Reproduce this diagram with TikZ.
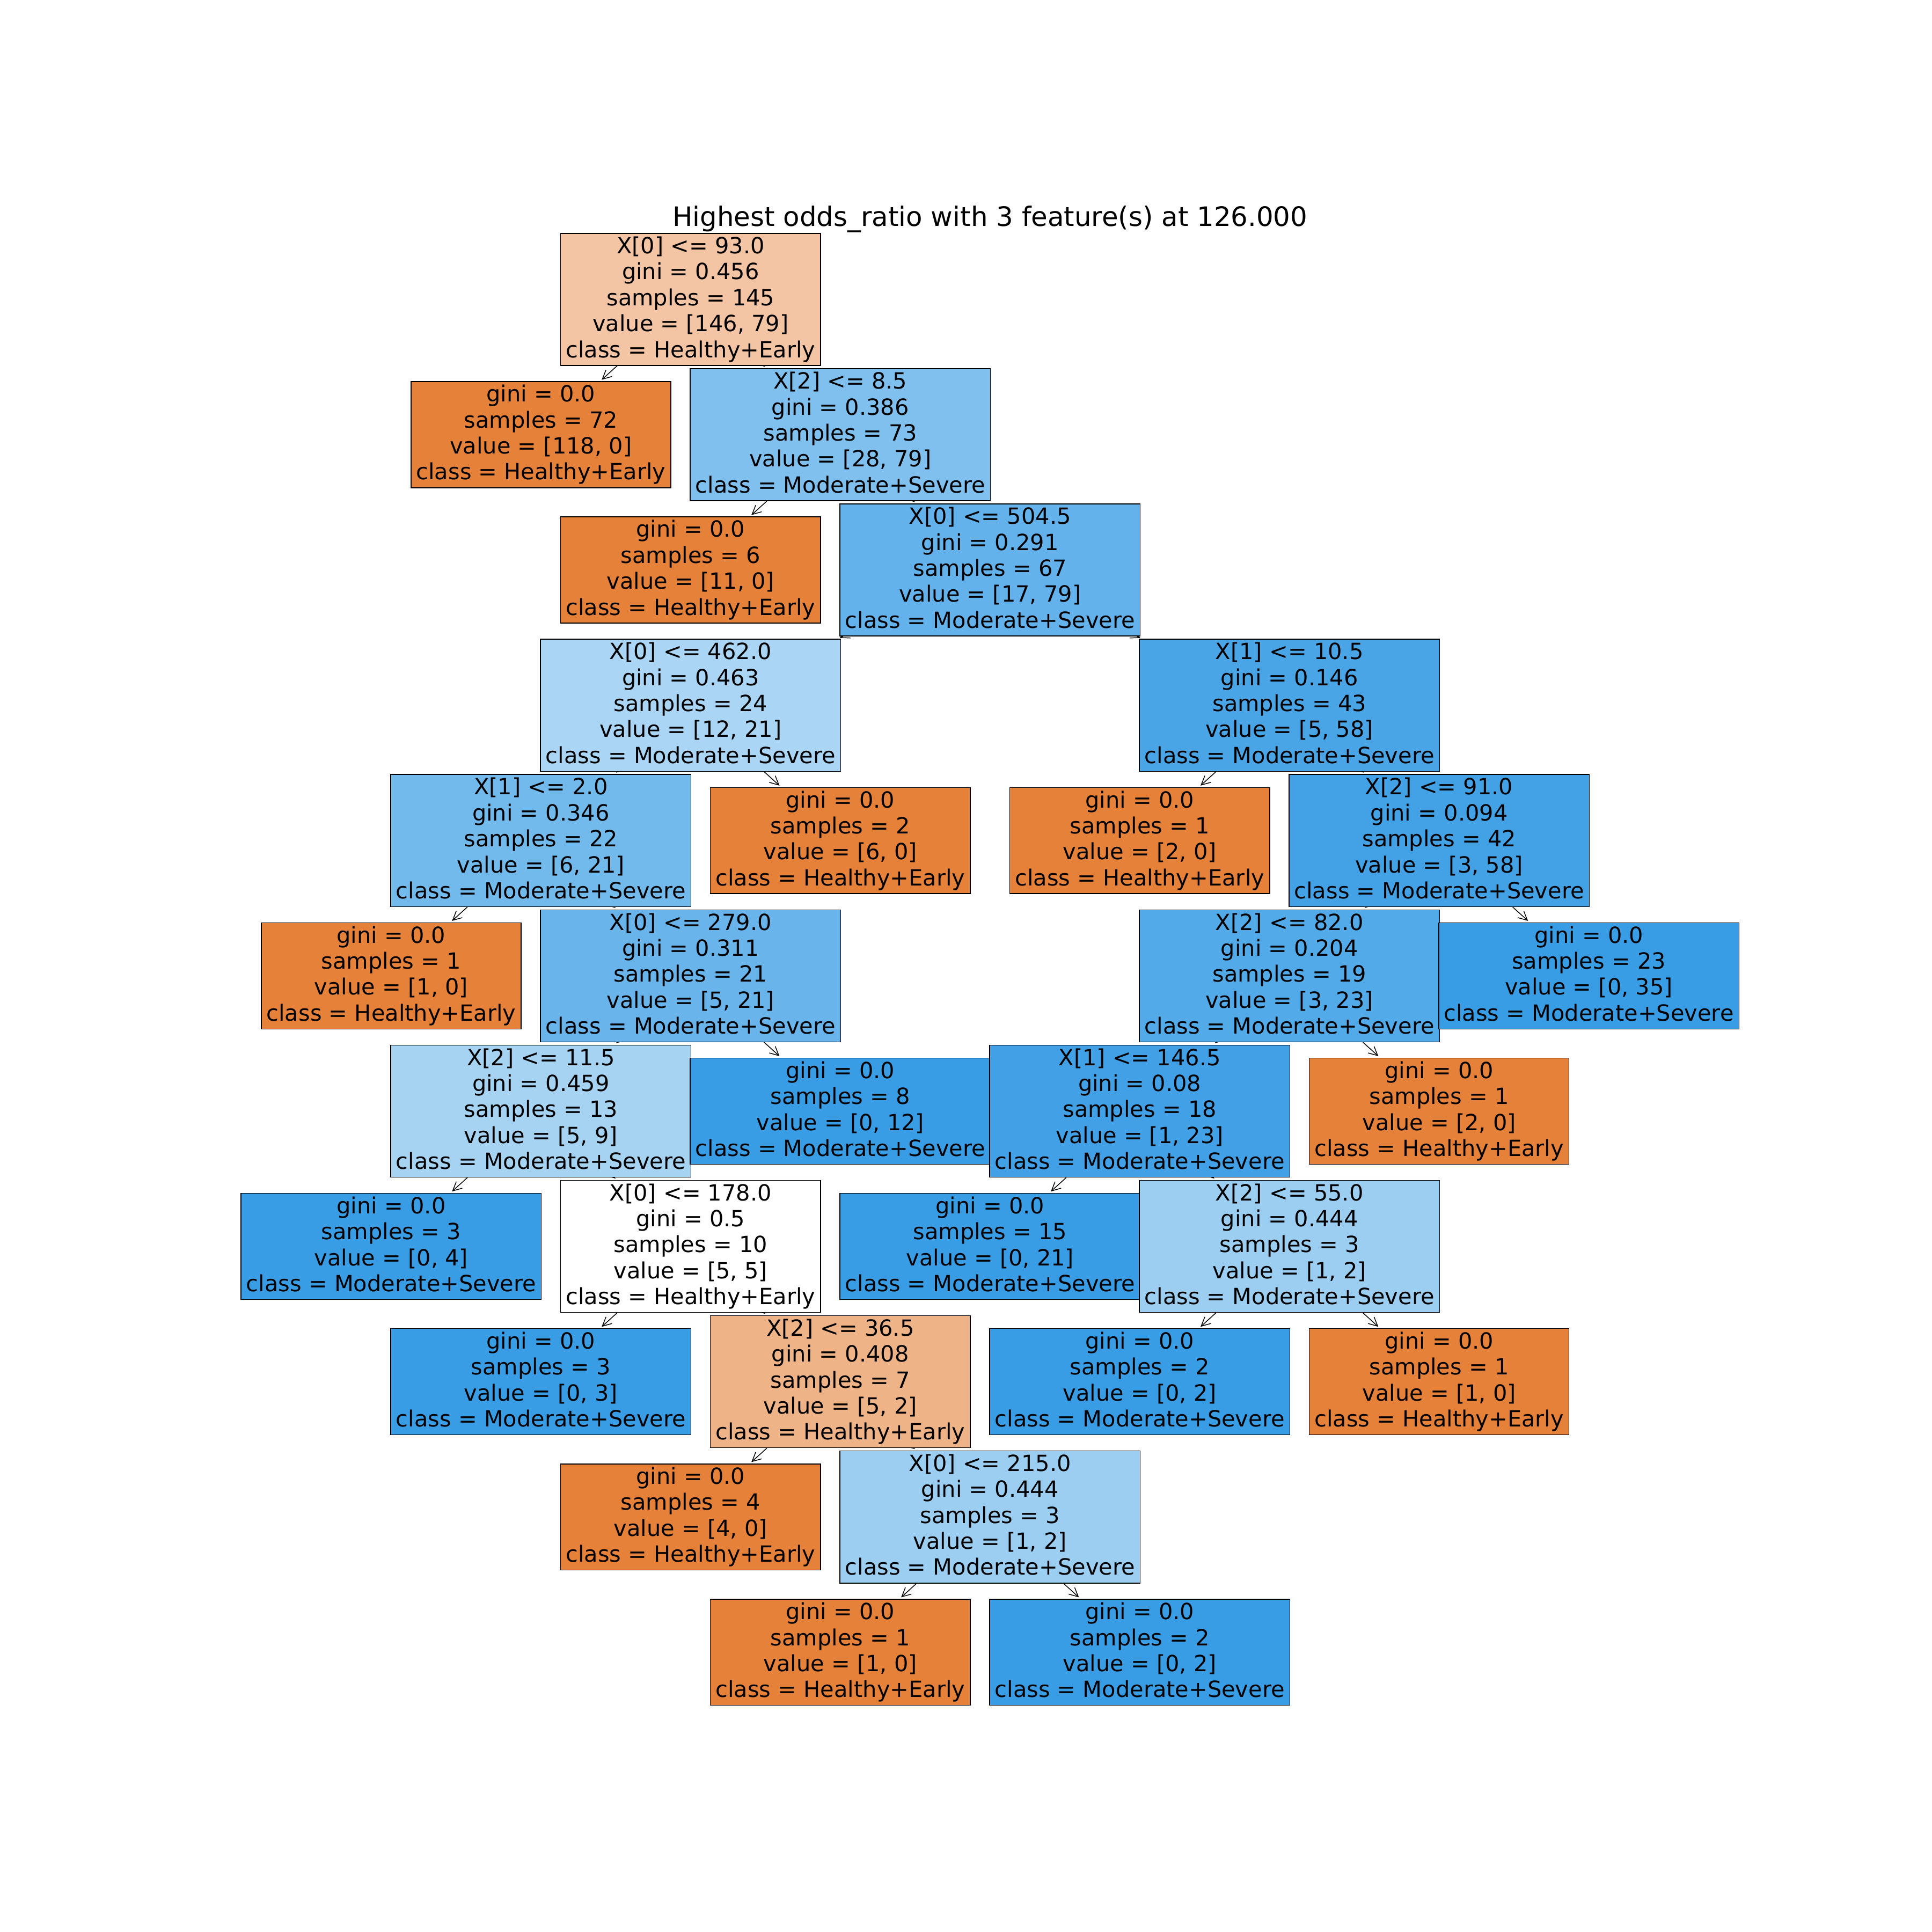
\documentclass[tikz,border=0pt]{standalone}
\usepackage{fontspec}
\setmainfont{DejaVu Sans}
\usetikzlibrary{arrows.meta,backgrounds}

\definecolor{hlth}{RGB}{229,129,57}
\definecolor{sev}{RGB}{57,157,229}
\definecolor{c_1}{RGB}{243,197,164}
\definecolor{c_3}{RGB}{127,192,238}
\definecolor{c_5}{RGB}{100,178,235}
\definecolor{c_6}{RGB}{170,213,244}
\definecolor{c_7}{RGB}{74,165,231}
\definecolor{c_8}{RGB}{114,185,236}
\definecolor{c_11}{RGB}{67,162,230}
\definecolor{c_13}{RGB}{104,180,235}
\definecolor{c_14}{RGB}{83,170,232}
\definecolor{c_16}{RGB}{167,211,243}
\definecolor{c_18}{RGB}{66,161,230}
\definecolor{c_23}{RGB}{156,206,242}
\definecolor{c_25}{RGB}{239,179,136}

% strut for first and last line of a box
\newcommand{\ls}{\rule[-3.6pt]{0pt}{12.7pt}}

\begin{document}
\begin{tikzpicture}[x=2.36184cm, y=-2.1344cm, font=\fontsize{10}{11.65}\selectfont,
  box/.style={draw, line width=0.35pt, rectangle, align=center, inner xsep=2.35pt, inner ysep=0pt},
  arr/.style={draw, line width=0.35pt, -{Straight Barb[length=4pt,width=4pt]}, shorten >=1pt}]
%\draw[help lines] (0,0) grid (8,10);
\useasboundingbox (-2.6132,-2.2131) rectangle (10.2922,12.0674);
\node (title) [font=\fontsize{12}{14.4}\selectfont, anchor=base] at (4,-0.5419) {Highest odds\_ratio with 3 feature(s) at 126.000};

\node (n_1) [box, fill=c_1] at (2,0) {\ls X[0] <= 93.0\\gini = 0.456\\samples = 145\\value = [146, 79]\\class = Healthy+Early\ls};
\node (n_2) [box, fill=hlth] at (1,1) {\ls gini = 0.0\\samples = 72\\value = [118, 0]\\class = Healthy+Early\ls};
\node (n_3) [box, fill=c_3] at (3,1) {\ls X[2] <= 8.5\\gini = 0.386\\samples = 73\\value = [28, 79]\\class = Moderate+Severe\ls};
\node (n_4) [box, fill=hlth] at (2,2) {\ls gini = 0.0\\samples = 6\\value = [11, 0]\\class = Healthy+Early\ls};
\node (n_5) [box, fill=c_5] at (4,2) {\ls X[0] <= 504.5\\gini = 0.291\\samples = 67\\value = [17, 79]\\class = Moderate+Severe\ls};
\node (n_6) [box, fill=c_6] at (2,3) {\ls X[0] <= 462.0\\gini = 0.463\\samples = 24\\value = [12, 21]\\class = Moderate+Severe\ls};
\node (n_7) [box, fill=c_7] at (6,3) {\ls X[1] <= 10.5\\gini = 0.146\\samples = 43\\value = [5, 58]\\class = Moderate+Severe\ls};
\node (n_8) [box, fill=c_8] at (1,4) {\ls X[1] <= 2.0\\gini = 0.346\\samples = 22\\value = [6, 21]\\class = Moderate+Severe\ls};
\node (n_9) [box, fill=hlth] at (3,4) {\ls gini = 0.0\\samples = 2\\value = [6, 0]\\class = Healthy+Early\ls};
\node (n_10) [box, fill=hlth] at (5,4) {\ls gini = 0.0\\samples = 1\\value = [2, 0]\\class = Healthy+Early\ls};
\node (n_11) [box, fill=c_11] at (7,4) {\ls X[2] <= 91.0\\gini = 0.094\\samples = 42\\value = [3, 58]\\class = Moderate+Severe\ls};
\node (n_12) [box, fill=hlth] at (0,5) {\ls gini = 0.0\\samples = 1\\value = [1, 0]\\class = Healthy+Early\ls};
\node (n_13) [box, fill=c_13] at (2,5) {\ls X[0] <= 279.0\\gini = 0.311\\samples = 21\\value = [5, 21]\\class = Moderate+Severe\ls};
\node (n_14) [box, fill=c_14] at (6,5) {\ls X[2] <= 82.0\\gini = 0.204\\samples = 19\\value = [3, 23]\\class = Moderate+Severe\ls};
\node (n_15) [box, fill=sev] at (8,5) {\ls gini = 0.0\\samples = 23\\value = [0, 35]\\class = Moderate+Severe\ls};
\node (n_16) [box, fill=c_16] at (1,6) {\ls X[2] <= 11.5\\gini = 0.459\\samples = 13\\value = [5, 9]\\class = Moderate+Severe\ls};
\node (n_17) [box, fill=sev] at (3,6) {\ls gini = 0.0\\samples = 8\\value = [0, 12]\\class = Moderate+Severe\ls};
\node (n_18) [box, fill=c_18] at (5,6) {\ls X[1] <= 146.5\\gini = 0.08\\samples = 18\\value = [1, 23]\\class = Moderate+Severe\ls};
\node (n_19) [box, fill=hlth] at (7,6) {\ls gini = 0.0\\samples = 1\\value = [2, 0]\\class = Healthy+Early\ls};
\node (n_20) [box, fill=sev] at (0,7) {\ls gini = 0.0\\samples = 3\\value = [0, 4]\\class = Moderate+Severe\ls};
\node (n_21) [box, fill=white] at (2,7) {\ls X[0] <= 178.0\\gini = 0.5\\samples = 10\\value = [5, 5]\\class = Healthy+Early\ls};
\node (n_22) [box, fill=sev] at (4,7) {\ls gini = 0.0\\samples = 15\\value = [0, 21]\\class = Moderate+Severe\ls};
\node (n_23) [box, fill=c_23] at (6,7) {\ls X[2] <= 55.0\\gini = 0.444\\samples = 3\\value = [1, 2]\\class = Moderate+Severe\ls};
\node (n_24) [box, fill=sev] at (1,8) {\ls gini = 0.0\\samples = 3\\value = [0, 3]\\class = Moderate+Severe\ls};
\node (n_25) [box, fill=c_25] at (3,8) {\ls X[2] <= 36.5\\gini = 0.408\\samples = 7\\value = [5, 2]\\class = Healthy+Early\ls};
\node (n_26) [box, fill=sev] at (5,8) {\ls gini = 0.0\\samples = 2\\value = [0, 2]\\class = Moderate+Severe\ls};
\node (n_27) [box, fill=hlth] at (7,8) {\ls gini = 0.0\\samples = 1\\value = [1, 0]\\class = Healthy+Early\ls};
\node (n_28) [box, fill=hlth] at (2,9) {\ls gini = 0.0\\samples = 4\\value = [4, 0]\\class = Healthy+Early\ls};
\node (n_29) [box, fill=c_23] at (4,9) {\ls X[0] <= 215.0\\gini = 0.444\\samples = 3\\value = [1, 2]\\class = Moderate+Severe\ls};
\node (n_30) [box, fill=hlth] at (3,10) {\ls gini = 0.0\\samples = 1\\value = [1, 0]\\class = Healthy+Early\ls};
\node (n_31) [box, fill=sev] at (5,10) {\ls gini = 0.0\\samples = 2\\value = [0, 2]\\class = Moderate+Severe\ls};

\begin{scope}[on background layer]
\path
(n_1) edge [arr] (n_2)
(n_1) edge [arr] (n_3)
(n_3) edge [arr] (n_4)
(n_3) edge [arr] (n_5)
(n_5) edge [arr] (n_6)
(n_5) edge [arr] (n_7)
(n_6) edge [arr] (n_8)
(n_6) edge [arr] (n_9)
(n_7) edge [arr] (n_10)
(n_7) edge [arr] (n_11)
(n_8) edge [arr] (n_12)
(n_8) edge [arr] (n_13)
(n_11) edge [arr] (n_14)
(n_11) edge [arr] (n_15)
(n_13) edge [arr] (n_16)
(n_13) edge [arr] (n_17)
(n_14) edge [arr] (n_18)
(n_14) edge [arr] (n_19)
(n_16) edge [arr] (n_20)
(n_16) edge [arr] (n_21)
(n_18) edge [arr] (n_22)
(n_18) edge [arr] (n_23)
(n_21) edge [arr] (n_24)
(n_21) edge [arr] (n_25)
(n_23) edge [arr] (n_26)
(n_23) edge [arr] (n_27)
(n_25) edge [arr] (n_28)
(n_25) edge [arr] (n_29)
(n_29) edge [arr] (n_30)
(n_29) edge [arr] (n_31);
\end{scope}
\end{tikzpicture}
\end{document}
